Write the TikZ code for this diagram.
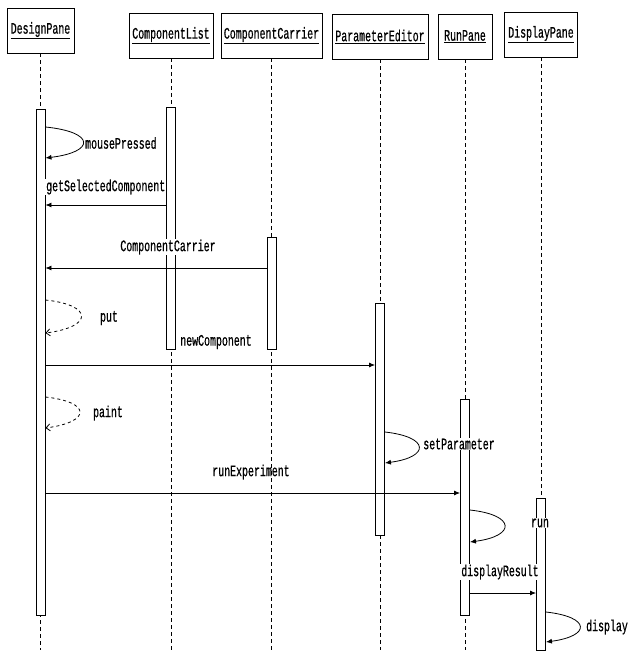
\documentclass[tikz,border=0pt]{standalone}
\usepackage{fontspec}
\newfontfamily\seqfont[FakeStretch=0.62,FakeBold=0.6]{Liberation Mono}
\usetikzlibrary{arrows.meta,calc}
\begin{document}
\begin{tikzpicture}[x=1pt,y=-1pt,
  txt/.style={font=\seqfont\fontsize{16}{18}\selectfont},
  obj/.style={draw,line width=0.9pt,minimum height=45pt,inner sep=2pt,fill=white,txt},
  life/.style={dash pattern=on 4pt off 3pt,line width=0.9pt},
  act/.style={draw,line width=0.9pt,fill=white,minimum width=9pt,inner sep=0pt},
  msg/.style={line width=0.8pt,-{Latex[length=6pt,width=5pt]}},
  ret/.style={line width=0.8pt,dashed,-{Straight Barb[length=4pt,width=7pt]}},
  lbl/.style={txt,fill=white,inner sep=1pt},
  lbln/.style={txt,inner sep=1pt}]

\useasboundingbox (0,0) rectangle (630,653);

% objects
\node[obj,minimum width=67pt] (dp) at (40.5,30.5) {\underline{DesignPane}};
\node[obj,minimum width=84pt] (cl) at (171,35.5) {\underline{ComponentList}};
\node[obj,minimum width=101pt] (cc) at (271.5,35.5) {\underline{ComponentCarrier}};
\node[obj,minimum width=96pt] (pe) at (380,36.5) {\underline{ParameterEditor}};
\node[obj,minimum width=54pt] (rp) at (465,36.5) {\underline{RunPane}};
\node[obj,minimum width=73pt] (dsp) at (541,34.5) {\underline{DisplayPane}};

% lifelines
\foreach \o in {dp,cl,cc,pe,rp,dsp}
  \draw[life] (\o.south) -- (\o.south |- 0,650);

% activations
\node[act,minimum height=506pt] (dpa) at (40.5,362) {};
\node[act,minimum height=242pt] (cla) at (171,228) {};
\node[act,minimum height=112pt] (cca) at (271.5,293) {};
\node[act,minimum height=232pt] (pea) at (380,419) {};
\node[act,minimum height=216pt] (rpa) at (465,507) {};
\node[act,minimum height=152pt] (dspa) at (541,574) {};

% messages
\draw[msg] (dpa.east |- 0,127) .. controls +(50,5) and +(50,-6) .. (dpa.east |- 0,158);
\draw[msg] (cla.west |- 0,205) -- (dpa.east |- 0,205);
\draw[msg] (cca.west |- 0,268) -- (dpa.east |- 0,268);
\draw[ret] (dpa.east |- 0,300) .. controls +(48,5) and +(48,-6) .. (dpa.east |- 0,333);
\draw[msg] (dpa.east |- 0,365) -- (pea.west |- 0,365);
\draw[ret] (dpa.east |- 0,397) .. controls +(46,5) and +(46,-6) .. (dpa.east |- 0,428);
\draw[msg] (pea.east |- 0,432) .. controls +(45,5) and +(45,-6) .. (pea.east |- 0,463);
\draw[msg] (dpa.east |- 0,493) -- (rpa.west |- 0,493);
\draw[msg] (rpa.east |- 0,510) .. controls +(46,5) and +(46,-6) .. (rpa.east |- 0,542);
\draw[msg] (rpa.east |- 0,593) -- (dspa.west |- 0,593);
\draw[msg] (dspa.east |- 0,612) .. controls +(45,5) and +(45,-6) .. (dspa.east |- 0,642);

% labels
\node[lbl,anchor=west] (l1) at (84,143) {mousePressed};
\node[lbl,anchor=west] (l2) at (45,187) {getSelectedComponent};
\node[lbl] (l3) at (168,247) {ComponentCarrier};
\node[lbl] (l4) at (109,318) {put};
\node[lbl] (l5) at (216,342) {newComponent};
\node[lbl] (l6) at (108,413) {paint};
\node[lbl] (l7) at (459,444) {setParameter};
\node[lbln] (l8) at (251,472) {runExperiment};
\node[lbl] (l9) at (540,523) {run};
\node[lbl] (l10) at (500,572) {displayResult};
\node[lbl] (l11) at (607,627) {display};
\end{tikzpicture}
\end{document}
